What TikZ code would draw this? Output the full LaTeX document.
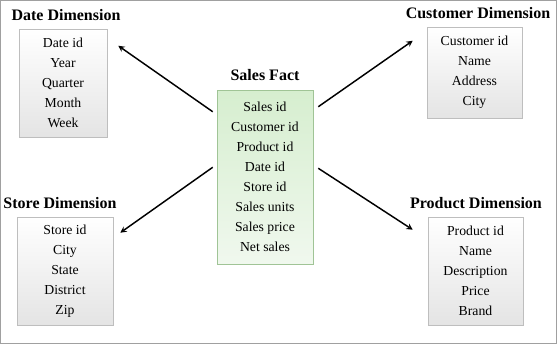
\documentclass[tikz,border=0pt]{standalone}
\usepackage{fontspec}
\setmainfont{Liberation Serif}
\usetikzlibrary{arrows,calc}
\definecolor{dimline}{RGB}{190,190,190}
\definecolor{dimbot}{RGB}{228,228,228}
\definecolor{factline}{RGB}{160,196,150}
\definecolor{facttop}{RGB}{214,238,207}
\definecolor{factmid}{RGB}{224,242,219}
\definecolor{factbot}{RGB}{240,248,238}
\definecolor{frame}{RGB}{160,160,160}

\begin{document}
\begin{tikzpicture}[x=0.75pt,y=-0.75pt,>=stealth,
      dim/.style={draw=dimline,top color=white,bottom color=dimbot,align=center,inner sep=0pt,
        font=\fontsize{10.3}{15}\selectfont},
      fact/.style={draw=factline,top color=facttop,middle color=factmid,bottom color=factbot,
        align=center,inner sep=0pt,font=\fontsize{10.3}{15}\selectfont},
      ttl/.style={font=\fontsize{12}{14}\selectfont\bfseries,inner sep=0pt},
      arr/.style={->,line width=1.1pt}]
    % frame
    \useasboundingbox (0,0) rectangle (557,344);
    \draw[frame,line width=1pt] (0.7,0.7) rectangle (556.3,343.3);
    % fact table
    \node[fact,minimum width=72pt,minimum height=130.5pt] (sales) at (265,177)
      {Sales id\\Customer id\\Product id\\Date id\\Store id\\Sales units\\Sales price\\Net sales};
    \node[ttl] (salest) at (265,75) {Sales Fact};
    % dimension tables
    \node[dim,minimum width=66pt,minimum height=81pt] (date) at (63,83)
      {Date id\\Year\\Quarter\\Month\\Week};
    \node[ttl] (datet) at (66,15) {Date Dimension};
    \node[dim,minimum width=71.25pt,minimum height=68.25pt] (cust) at (474.5,72.5)
      {Customer id\\Name\\Address\\City};
    \node[ttl] (custt) at (478,13) {Customer Dimension};
    \node[dim,minimum width=72pt,minimum height=81pt] (store) at (65,271)
      {Store id\\City\\State\\District\\Zip};
    \node[ttl] (storet) at (60,203) {Store Dimension};
    \node[dim,minimum width=71.25pt,minimum height=81pt] (prod) at (475.5,271)
      {Product id\\Name\\Description\\Price\\Brand};
    \node[ttl] (prodt) at (476,203) {Product Dimension};
    % arrows
    \draw[arr] ($(sales.north west)+(-4,22)$) -- ($(date.north east)+(11,17)$);
    \draw[arr] ($(sales.north east)+(5,17)$) -- ($(cust.north west)+(-14,14)$);
    \draw[arr] ($(sales.south west)+(-4,-97)$) -- ($(store.north east)+(7,16)$);
    \draw[arr] ($(sales.south east)+(5,-96)$) -- ($(prod.north west)+(-15,13)$);
  \end{tikzpicture}
\end{document}
